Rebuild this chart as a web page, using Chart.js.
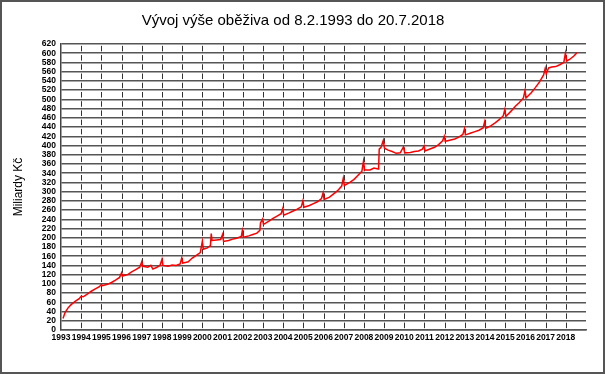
<!DOCTYPE html>
<html>
<head>
<meta charset="utf-8">
<script src="https://cdn.jsdelivr.net/npm/chart.js@4"></script>
<style>
  html, body { margin: 0; padding: 0; background: #fff; }
  #wrap { width: 605px; height: 374px; position: relative; }
</style>
</head>
<body>
<div id="wrap"><canvas id="myChart" width="605" height="374"></canvas></div>
<script>
const chartTitle = "Vývoj výše oběživa od 8.2.1993 do 20.7.2018";
const yAxisTitle = "Miliardy Kč";

// decimal years and amounts (mld. Kč)
const dates = [
  1993.10, 1993.20, 1993.35, 1993.50, 1993.70, 1993.90, 1994.00, 1994.10, 1994.30, 1994.50,
  1994.70, 1994.90, 1995.00, 1995.05, 1995.30, 1995.50, 1995.70, 1995.90, 1996.00, 1996.04,
  1996.30, 1996.50, 1996.70, 1996.90, 1997.00, 1997.05, 1997.30, 1997.45, 1997.55, 1997.75,
  1997.90, 1998.00, 1998.05, 1998.30, 1998.50, 1998.70, 1998.90, 1998.98, 1999.03, 1999.30,
  1999.50, 1999.70, 1999.90, 2000.00, 2000.05, 2000.25, 2000.40, 2000.44, 2000.48, 2000.70,
  2000.90, 2001.00, 2001.05, 2001.30, 2001.50, 2001.70, 2001.93, 2001.98, 2002.03, 2002.30,
  2002.50, 2002.70, 2002.85, 2002.88, 2002.98, 2003.03, 2003.30, 2003.50, 2003.70, 2003.90,
  2003.98, 2004.03, 2004.30, 2004.50, 2004.70, 2004.90, 2004.98, 2005.03, 2005.30, 2005.50,
  2005.70, 2005.90, 2005.98, 2006.03, 2006.30, 2006.50, 2006.70, 2006.90, 2006.98, 2007.03,
  2007.30, 2007.50, 2007.70, 2007.90, 2007.98, 2008.03, 2008.30, 2008.50, 2008.70, 2008.73,
  2008.76, 2008.85, 2008.96, 2009.02, 2009.20, 2009.40, 2009.60, 2009.80, 2009.96, 2010.02,
  2010.30, 2010.50, 2010.70, 2010.90, 2010.98, 2011.03, 2011.30, 2011.50, 2011.70, 2011.90,
  2011.98, 2012.03, 2012.30, 2012.50, 2012.70, 2012.90, 2012.98, 2013.03, 2013.30, 2013.50,
  2013.70, 2013.90, 2013.98, 2014.03, 2014.30, 2014.50, 2014.70, 2014.90, 2014.98, 2015.03,
  2015.30, 2015.50, 2015.70, 2015.90, 2015.98, 2016.03, 2016.30, 2016.50, 2016.70, 2016.90,
  2016.98, 2017.03, 2017.15, 2017.30, 2017.50, 2017.70, 2017.90, 2017.98, 2018.04, 2018.20,
  2018.40, 2018.55
];
const amounts = [
  25, 38, 48, 55, 62, 68, 73, 72, 78, 84,
  89, 94, 99, 96, 99, 103, 108, 114, 124, 117,
  120, 126, 131, 136, 148, 138, 136, 140, 132, 136,
  140, 153, 140, 138, 141, 140, 143, 156, 145, 148,
  156, 162, 168, 192, 175, 178, 183, 209, 194, 195,
  196, 207, 192, 194, 197, 199, 203, 215, 201, 204,
  207, 210, 216, 232, 240, 229, 236, 242, 247, 252,
  263, 249, 254, 258, 262, 267, 280, 266, 270, 274,
  278, 285, 297, 283, 288, 295, 302, 312, 329, 313,
  320, 326, 335, 344, 366, 347, 347, 351, 349, 352,
  392, 396, 411, 394, 390, 387, 383, 384, 397, 384,
  385, 387, 388, 392, 399, 388, 393, 396, 402, 410,
  420, 409, 412, 414, 418, 424, 436, 423, 427, 430,
  433, 438, 451, 437, 443, 449, 456, 464, 478, 463,
  475, 485, 493, 503, 519, 503, 515, 526, 538, 553,
  567, 556, 568, 570, 571, 575, 580, 600, 583, 587,
  594, 601
];

const yearFirst = 1993;
const yearLast = 2018;
const yMin = 0;
const yMax = 620;
const yStep = 20;

const points = dates.map((d, i) => ({ x: d, y: amounts[i] }));

// white background, dashed year lines and the outer frame
const framePlugin = {
  id: "frame",
  beforeDraw(chart) {
    const c = chart.ctx;
    c.save();
    c.fillStyle = "#fff";
    c.fillRect(0, 0, chart.width, chart.height);
    c.restore();
  },
  beforeDatasetsDraw(chart) {
    const c = chart.ctx;
    const xs = chart.scales.x;
    const ys = chart.scales.y;
    const area = chart.chartArea;
    const period = Math.abs(ys.getPixelForValue(yMin) - ys.getPixelForValue(yMin + yStep));
    const dash = period * 0.6;
    const gap = period - dash;
    c.save();
    c.strokeStyle = "#333";
    c.lineWidth = 1;
    c.setLineDash([dash, gap]);
    c.lineDashOffset = -gap / 2;
    for (let yr = yearFirst + 1; yr <= yearLast; yr++) {
      const px = Math.round(xs.getPixelForValue(yr)) + 0.5;
      c.beginPath();
      c.moveTo(px, area.top);
      c.lineTo(px, area.bottom);
      c.stroke();
    }
    c.restore();
  },
  afterDraw(chart) {
    const c = chart.ctx;
    c.save();
    c.strokeStyle = "#555";
    c.lineWidth = 2;
    c.strokeRect(1, 1, chart.width - 2, chart.height - 2);
    c.restore();
  }
};

const tickFont = { family: "Liberation Sans, Arial, sans-serif", size: 8.5, weight: "bold", lineHeight: 1 };

new Chart(document.getElementById("myChart").getContext("2d"), {
  type: "line",
  data: {
    datasets: [{
      data: points,
      borderColor: "#ff0000",
      borderWidth: 1.5,
      pointRadius: 0,
      tension: 0,
      fill: false
    }]
  },
  options: {
    responsive: false,
    animation: false,
    events: [],
    layout: { padding: { left: 0, right: 19, top: 0, bottom: 0 } },
    plugins: {
      legend: { display: false },
      tooltip: { enabled: false },
      title: {
        display: true,
        text: chartTitle,
        color: "#000",
        font: { family: "Liberation Sans, Arial, sans-serif", size: 15, weight: "normal", lineHeight: 1.2 },
        padding: { top: 12, bottom: 14 }
      }
    },
    scales: {
      x: {
        type: "linear",
        min: yearFirst,
        max: yearLast + 1,
        afterFit(scale) { scale.height = 44; },
        ticks: {
          stepSize: 1,
          autoSkip: false,
          maxRotation: 0,
          includeBounds: false,
          padding: 3,
          color: "#000",
          font: tickFont,
          callback: (v) => (v > yearLast ? "" : String(v))
        },
        grid: { display: false, drawTicks: false },
        border: { display: true, color: "#555", width: 1.5 }
      },
      y: {
        min: yMin,
        max: yMax,
        afterFit(scale) { scale.width = 61; },
        ticks: {
          stepSize: yStep,
          autoSkip: false,
          padding: 5,
          color: "#000",
          font: tickFont
        },
        grid: { drawTicks: false, color: "#555", lineWidth: 1.5 },
        border: { display: true, color: "#444", width: 1.5 },
        title: {
          display: true,
          text: yAxisTitle,
          color: "#000",
          font: { family: "Liberation Sans, Arial, sans-serif", size: 12, lineHeight: 1.2 },
          padding: { top: 11, bottom: 0 }
        }
      }
    }
  },
  plugins: [framePlugin]
});
</script>
</body>
</html>
